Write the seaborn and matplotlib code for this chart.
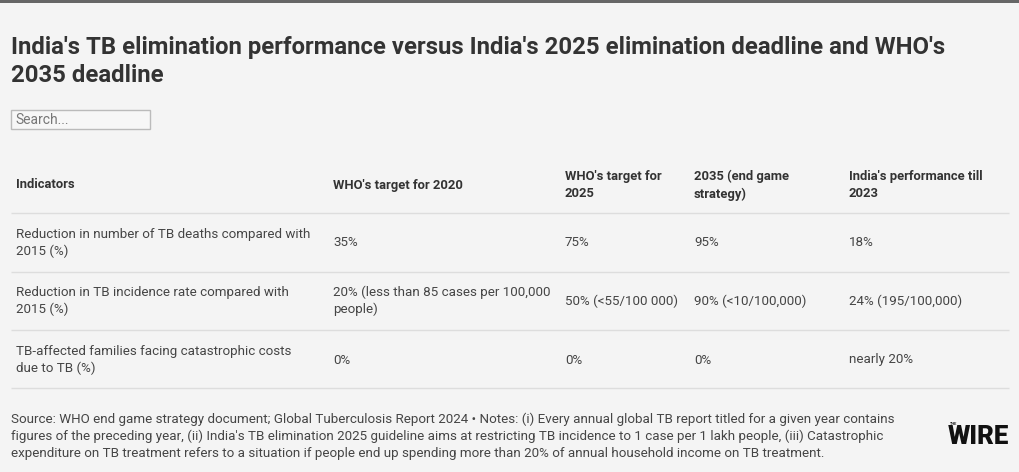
import matplotlib
matplotlib.use("Agg")
import matplotlib.pyplot as plt
import seaborn as sns
from matplotlib.patches import Rectangle

# table data
headers = ["Indicators", "WHO's target for 2020", "WHO's target for\n2025",
           "2035 (end game\nstrategy)", "India's performance till\n2023"]
indicators = ["Reduction in number of TB deaths compared with\n2015 (%)",
              "Reduction in TB incidence rate compared with\n2015 (%)",
              "TB-affected families facing catastrophic costs\ndue to TB (%)"]
who_2020 = ["35%", "20% (less than 85 cases per 100,000\npeople)", "0%"]
who_2025 = ["75%", "50% (<55/100 000)", "0%"]
end_2035 = ["95%", "90% (<10/100,000)", "0%"]
india_2023 = ["18%", "24% (195/100,000)", "nearly 20%"]

title = ("India's TB elimination performance versus India's 2025 elimination deadline and WHO's\n"
         "2035 deadline")
footer = ("Source: WHO end game strategy document; Global Tuberculosis Report 2024 \u2022 Notes: (i) Every annual global TB report titled for a given year contains\n"
          "figures of the preceding year, (ii) India's TB elimination 2025 guideline aims at restricting TB incidence to 1 case per 1 lakh people, (iii) Catastrophic\n"
          "expenditure on TB treatment refers to a situation if people end up spending more than 20% of annual household income on TB treatment.")

bg = "#f4f4f4"
sns.set_theme(style="white", rc={"figure.facecolor": bg, "axes.facecolor": bg})
plt.rcParams["font.family"] = ["Roboto", "DejaVu Sans"]

fig = plt.figure(figsize=(10.2, 4.72), dpi=100)
ax = fig.add_axes([0, 0, 1, 1])
ax.set_xlim(0, 1020)
ax.set_ylim(472, 0)
ax.axis("off")

# top bar
ax.add_patch(Rectangle((0, 0), 1020, 3, color="#666666", lw=0))

ax.text(11, 61.5, title, fontsize=17.2, fontweight="bold", color="#333333",
        va="center", ha="left", linespacing=1.26)

# search box
ax.add_patch(Rectangle((11, 110), 139, 19, facecolor="#f7f7f7", edgecolor="#bbbbbb", lw=1))
ax.text(15, 120, "Search...", fontsize=10, color="#777777", va="center")

col_x = [16, 333, 565, 694, 849]
header_y = 185
row_y = [243, 301, 360]
line_y = [213, 272, 330, 388]

for x, h in zip(col_x, headers):
    ax.text(x, header_y, h, fontsize=9.4, fontweight="bold", color="#333333",
            va="center", ha="left", linespacing=1.48)

cols = [indicators, who_2020, who_2025, end_2035, india_2023]
for x, col in zip(col_x, cols):
    for y, val in zip(row_y, col):
        ax.text(x, y, val, fontsize=9.6, color="#454545", va="center", ha="left",
                linespacing=1.34)

ax.hlines(line_y, 11, 1009, color="#dddddd", lw=1)

ax.text(11, 436, footer, fontsize=9.6, color="#454545", va="center", ha="left",
        linespacing=1.36)

# logo
ax.text(950, 424, "THE", fontsize=2.8, fontweight="bold", color="#111111", va="center")
ax.text(948, 437, "WIRE", fontsize=18.5, fontweight="black", color="#111111", va="center")

fig.savefig("out.png", dpi=100, facecolor=bg)
